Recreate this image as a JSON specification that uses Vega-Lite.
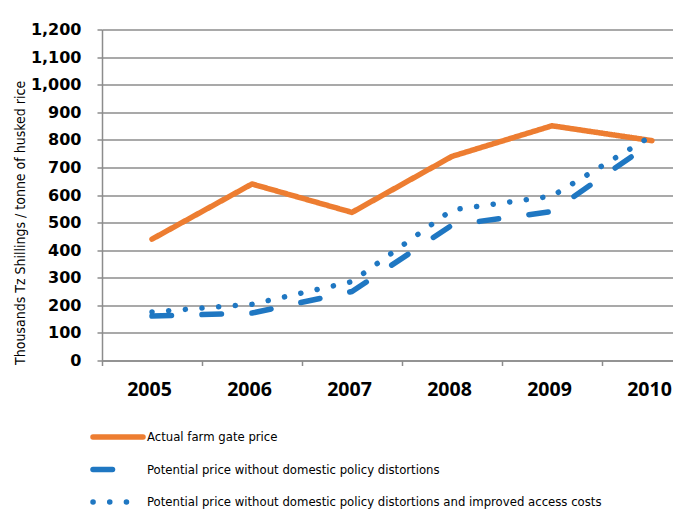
{
  "$schema": "https://vega.github.io/schema/vega-lite/v6.json",
  "width": 571,
  "height": 331,
  "padding": {"left": 102, "top": 29.5, "right": 0, "bottom": 151.5},
  "autosize": {"type": "none"},
  "background": "white",
  "config": {"view": {"stroke": null}},
  "data": {
    "values": [
      {"year": 2005, "series": "Actual farm gate price", "value": 440},
      {"year": 2006, "series": "Actual farm gate price", "value": 640},
      {"year": 2007, "series": "Actual farm gate price", "value": 537},
      {"year": 2008, "series": "Actual farm gate price", "value": 740},
      {"year": 2009, "series": "Actual farm gate price", "value": 851},
      {"year": 2010, "series": "Actual farm gate price", "value": 797},
      {"year": 2005, "series": "Potential price without domestic policy distortions", "value": 161},
      {"year": 2006, "series": "Potential price without domestic policy distortions", "value": 172},
      {"year": 2007, "series": "Potential price without domestic policy distortions", "value": 250},
      {"year": 2008, "series": "Potential price without domestic policy distortions", "value": 491},
      {"year": 2009, "series": "Potential price without domestic policy distortions", "value": 540},
      {"year": 2010, "series": "Potential price without domestic policy distortions", "value": 790},
      {"year": 2005, "series": "Potential price without domestic policy distortions and improved access costs", "value": 176},
      {"year": 2006, "series": "Potential price without domestic policy distortions and improved access costs", "value": 204},
      {"year": 2007, "series": "Potential price without domestic policy distortions and improved access costs", "value": 286},
      {"year": 2008, "series": "Potential price without domestic policy distortions and improved access costs", "value": 546},
      {"year": 2009, "series": "Potential price without domestic policy distortions and improved access costs", "value": 596},
      {"year": 2010, "series": "Potential price without domestic policy distortions and improved access costs", "value": 815}
    ]
  },
  "mark": {"type": "line", "strokeWidth": 5.5, "strokeCap": "round", "strokeJoin": "round"},
  "encoding": {
    "x": {
      "field": "year",
      "type": "quantitative",
      "scale": {"domain": [2004.5, 2010.21], "nice": false, "zero": false},
      "axis": {
        "title": null,
        "values": [2004.5, 2005.5, 2006.5, 2007.5, 2008.5, 2009.5],
        "labelExpr": "format(datum.value + 0.5, 'd')",
        "labelOffset": 47,
        "labelFlush": false,
        "labelOverlap": false,
        "labelBound": false,
        "labelFont": "Open Sans",
        "labelFontWeight": "bold",
        "labelFontSize": 19.5,
        "labelColor": "#000000",
        "labelPadding": 15,
        "tickSize": 5,
        "tickColor": "#8c8c8c",
        "tickWidth": 1.5,
        "domainColor": "#8c8c8c",
        "domainWidth": 1.5,
        "grid": false
      }
    },
    "y": {
      "field": "value",
      "type": "quantitative",
      "scale": {"domain": [0, 1200], "nice": false},
      "axis": {
        "title": "Thousands Tz Shillings / tonne of husked rice",
        "titleFont": "DejaVu Sans Condensed",
        "titleFontSize": 14,
        "titleFontWeight": "normal",
        "titleColor": "#000000",
        "titleAngle": -90,
        "titleAlign": "left",
        "titleBaseline": "middle",
        "titleX": -82,
        "titleY": 335,
        "values": [0, 100, 200, 300, 400, 500, 600, 700, 800, 900, 1000, 1100, 1200],
        "format": ",.0f",
        "labelFont": "DejaVu Sans",
        "labelFontWeight": "bold",
        "labelFontSize": 16,
        "labelColor": "#000000",
        "labelPadding": 16,
        "tickSize": 5,
        "tickColor": "#8c8c8c",
        "tickWidth": 1.5,
        "domainColor": "#8c8c8c",
        "domainWidth": 1.5,
        "grid": true,
        "gridColor": "#8c8c8c",
        "gridWidth": 1.5,
        "gridOpacity": 1
      }
    },
    "color": {
      "field": "series",
      "type": "nominal",
      "scale": {
        "domain": ["Actual farm gate price", "Potential price without domestic policy distortions", "Potential price without domestic policy distortions and improved access costs"],
        "range": ["#ED7D31", "#1F77C2", "#1F77C2"]
      },
      "legend": {
        "title": null,
        "orient": "none",
        "legendX": -12,
        "legendY": 400,
        "direction": "vertical",
        "padding": 0,
        "symbolType": "stroke",
        "symbolSize": 2500,
        "symbolStrokeWidth": 5.5,
        "clipHeight": 15,
        "labelFont": "DejaVu Sans Condensed",
        "labelFontSize": 13,
        "labelColor": "#000000",
        "labelLimit": 700,
        "labelOffset": 1,
        "rowPadding": 17.5,
        "encode": {
          "symbols": {
            "update": {
              "strokeCap": {"value": "round"},
              "strokeDash": {"signal": "datum.value === 'Actual farm gate price' ? [1, 0] : (datum.value === 'Potential price without domestic policy distortions' ? [14.5, 15.5] : [0.1, 14.5])"}
            }
          }
        }
      }
    },
    "strokeDash": {
      "field": "series",
      "type": "nominal",
      "scale": {
        "domain": ["Actual farm gate price", "Potential price without domestic policy distortions", "Potential price without domestic policy distortions and improved access costs"],
        "range": [[1, 0], [19.5, 30.5], [0.1, 16.6]]
      },
      "legend": null
    }
  }
}
